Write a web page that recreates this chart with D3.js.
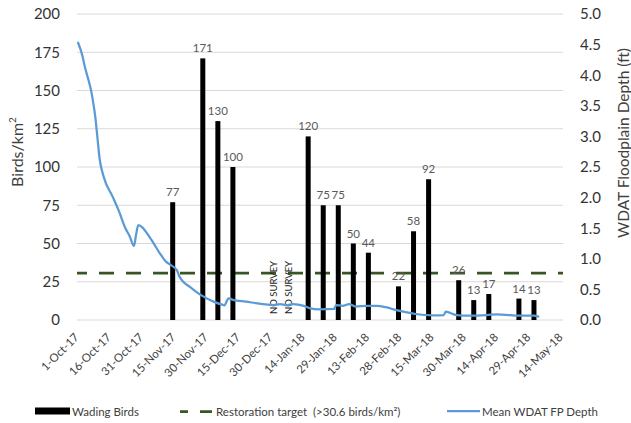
<!DOCTYPE html>
<html>
<head>
<meta charset="utf-8">
<script src="https://cdnjs.cloudflare.com/ajax/libs/d3/7.8.5/d3.min.js"></script>
<style>
  html, body { margin: 0; padding: 0; background: #fff; }
  svg { display: block; font-family: Lato, "Open Sans", sans-serif; }
</style>
</head>
<body>
<svg id="chart" width="631" height="423"></svg>
<script>
// ---------- data ----------
const surveyDates = ["2017-11-14","2017-11-28","2017-12-05","2017-12-12","2018-01-16","2018-01-23","2018-01-30","2018-02-06","2018-02-13","2018-02-27","2018-03-06","2018-03-13","2018-03-27","2018-04-03","2018-04-10","2018-04-24","2018-05-01"];
const wadingBirds = [77,171,130,100,120,75,75,50,44,22,58,92,26,13,17,14,13];
const noSurveyDates = ["2018-01-02","2018-01-09"];
const noSurveyLabel = "NO SURVEY";
const restorationTarget = 30.6;

const depthDates = ["2017-10-01","2017-10-03","2017-10-04","2017-10-06","2017-10-07","2017-10-08","2017-10-09","2017-10-10","2017-10-11","2017-10-13","2017-10-17","2017-10-20","2017-10-23","2017-10-25","2017-10-27","2017-10-28","2017-10-29","2017-10-31","2017-11-02","2017-11-05","2017-11-08","2017-11-11","2017-11-13","2017-11-16","2017-11-17","2017-11-19","2017-11-22","2017-11-27","2017-12-03","2017-12-07","2017-12-08","2017-12-10","2017-12-12","2017-12-18","2017-12-26","2017-12-31","2018-01-03","2018-01-06","2018-01-09","2018-01-14","2018-01-17","2018-01-21","2018-01-28","2018-01-29","2018-02-01","2018-02-04","2018-02-07","2018-02-12","2018-02-17","2018-02-21","2018-02-26","2018-03-03","2018-03-07","2018-03-15","2018-03-20","2018-03-21","2018-03-26","2018-03-31","2018-04-09","2018-04-14","2018-04-21","2018-05-01","2018-05-03"];
const depthValues = [4.53,4.32,4.16,3.90,3.76,3.56,3.32,2.98,2.64,2.33,2.02,1.78,1.50,1.37,1.21,1.40,1.55,1.51,1.42,1.26,1.09,0.95,0.90,0.81,0.72,0.62,0.54,0.41,0.30,0.25,0.24,0.355,0.33,0.30,0.26,0.245,0.26,0.24,0.26,0.23,0.19,0.175,0.18,0.245,0.23,0.26,0.22,0.23,0.23,0.21,0.16,0.126,0.098,0.077,0.08,0.135,0.08,0.07,0.08,0.093,0.077,0.07,0.054];

const leftTicks = [0,25,50,75,100,125,150,175,200];
const rightTicks = [0,0.5,1,1.5,2,2.5,3,3.5,4,4.5,5];
const xTickDates = ["2017-10-01","2017-10-16","2017-10-31","2017-11-15","2017-11-30","2017-12-15","2017-12-30","2018-01-14","2018-01-29","2018-02-13","2018-02-28","2018-03-15","2018-03-30","2018-04-14","2018-04-29","2018-05-14"];

const leftTitle = "Birds/km";
const rightTitle = "WDAT Floodplain Depth (ft)";
const legendLabels = ["Wading Birds", "Restoration target\u00A0 (>30.6 birds/km\u00B2)", "Mean WDAT FP Depth"];

// ---------- setup ----------
const parse = d3.timeParse("%Y-%m-%d");
const center = s => d3.timeHour.offset(parse(s), 12);
const svg = d3.select("#chart");
const L = 77, R = 563, T = 14, B = 320;

const x = d3.scaleTime().domain([parse("2017-10-01"), parse("2018-05-15")]).range([L, R]);
const yL = d3.scaleLinear().domain([0, 200]).range([B, T]);
const yR = d3.scaleLinear().domain([0, 5]).range([B, T]);

const GRID = "#d9d9d9", TXT = "#404040";

// gridlines
svg.append("g").selectAll("line").data(leftTicks).join("line")
  .attr("x1", L).attr("x2", R)
  .attr("y1", d => yL(d)).attr("y2", d => yL(d))
  .attr("stroke", GRID).attr("stroke-width", 1);

// left axis
const gL = svg.append("g").attr("transform", `translate(${L},0)`)
  .call(d3.axisLeft(yL).tickValues(leftTicks).tickSize(0).tickPadding(17));
gL.select(".domain").remove();
gL.selectAll("text").attr("font-size", 15).attr("fill", "#333").style("font-family", "Lato");

// right axis
const gR = svg.append("g").attr("transform", `translate(${R},0)`)
  .call(d3.axisRight(yR).tickValues(rightTicks).tickSize(0).tickPadding(17).tickFormat(d3.format(".1f")));
gR.select(".domain").remove();
gR.selectAll("text").attr("font-size", 15).attr("fill", "#333").style("font-family", "Lato");

// bottom axis
const gB = svg.append("g").attr("transform", `translate(0,${B})`)
  .call(d3.axisBottom(x).tickValues(xTickDates.map(center)).tickSize(0).tickFormat(d3.timeFormat("%-d-%b-%y")));
gB.select(".domain").remove();
gB.selectAll("text")
  .attr("x", 0).attr("y", 0).attr("dy", 0)
  .attr("text-anchor", "end")
  .attr("transform", "translate(1,18) rotate(-45)")
  .attr("font-size", 11.5).attr("fill", TXT).style("font-family", "Lato");

// restoration target
svg.append("line")
  .attr("x1", L).attr("x2", R)
  .attr("y1", yL(restorationTarget)).attr("y2", yL(restorationTarget))
  .attr("stroke", "#375623").attr("stroke-width", 2.75)
  .attr("stroke-dasharray", "15,12").attr("stroke-dashoffset", 5);

// bars
const bars = surveyDates.map((d, i) => ({ date: center(d), v: wadingBirds[i] }));
svg.append("g").selectAll("rect").data(bars).join("rect")
  .attr("x", d => x(d.date) - 2.5).attr("width", 5)
  .attr("y", d => yL(d.v)).attr("height", d => B - yL(d.v))
  .attr("fill", "#000");

// bar labels
svg.append("g").selectAll("text").data(bars).join("text")
  .attr("x", d => x(d.date)).attr("y", d => yL(d.v) - 6)
  .attr("text-anchor", "middle")
  .attr("font-size", 11.5).attr("fill", "#595959")
  .text(d => d.v);

// no survey annotations
svg.append("g").selectAll("text").data(noSurveyDates).join("text")
  .attr("transform", d => `translate(${x(center(d)) - 1},${B - 6}) rotate(-90)`)
  .attr("text-anchor", "start")
  .attr("font-size", 9.5).attr("fill", "#262626")
  .text(noSurveyLabel);

// depth line
const depth = depthDates.map((d, i) => ({ date: center(d), v: depthValues[i] }));
svg.append("path").datum(depth)
  .attr("fill", "none").attr("stroke", "#5B9BD5").attr("stroke-width", 2.25)
  .attr("stroke-linejoin", "round").attr("stroke-linecap", "round")
  .attr("d", d3.line().x(d => x(d.date)).y(d => yR(d.v)).curve(d3.curveMonotoneX));

// axis titles
const lt = svg.append("text")
  .attr("transform", "translate(17,152) rotate(-90)")
  .attr("text-anchor", "middle").attr("dy", "0.35em")
  .attr("font-size", 16).attr("fill", TXT);
lt.append("tspan").text(leftTitle);
lt.append("tspan").attr("font-size", 10).attr("dy", "-0.7em").text("2");

svg.append("text")
  .attr("transform", "translate(624,143) rotate(-90)")
  .attr("text-anchor", "middle").attr("dy", "0.35em")
  .attr("font-size", 15.5).attr("fill", TXT)
  .text(rightTitle);

// legend
const lg = svg.append("g");
lg.append("rect").attr("x", 35).attr("y", 407.5).attr("width", 35).attr("height", 7).attr("fill", "#000");
lg.append("text").attr("x", 72).attr("y", 415.5).attr("font-size", 11.5).attr("fill", TXT).text(legendLabels[0]);
lg.append("line").attr("x1", 180).attr("x2", 212).attr("y1", 411.5).attr("y2", 411.5)
  .attr("stroke", "#375623").attr("stroke-width", 2.75).attr("stroke-dasharray", "8,12,12");
lg.append("text").attr("x", 216).attr("y", 415.5).attr("font-size", 11.5).attr("fill", TXT).text(legendLabels[1]);
lg.append("line").attr("x1", 447).attr("x2", 480).attr("y1", 411).attr("y2", 411)
  .attr("stroke", "#5B9BD5").attr("stroke-width", 2.25);
lg.append("text").attr("x", 482).attr("y", 415.5).attr("font-size", 11.5).attr("fill", TXT).text(legendLabels[2]);
</script>
</body>
</html>
